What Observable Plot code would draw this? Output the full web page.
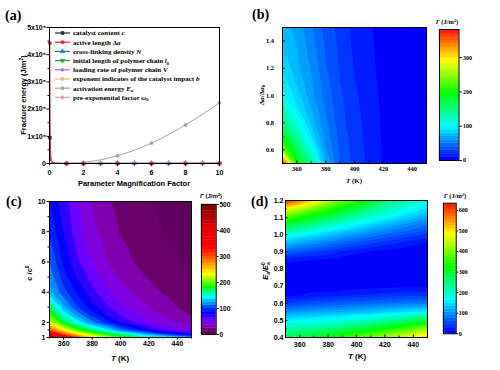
<!DOCTYPE html>
<html>
<head>
<meta charset="utf-8">
<script src="https://cdn.jsdelivr.net/npm/d3@7"></script>
<script src="https://cdn.jsdelivr.net/npm/@observablehq/plot@0.6"></script>
<style>
  html, body { margin: 0; padding: 0; background: #fff; }
  #fig { position: relative; width: 500px; height: 370px; overflow: hidden; background: #fff; }
  .panel { position: absolute; }
  .panel svg { display: block; }
  #overlay { position: absolute; left: 0; top: 0; pointer-events: none; }
</style>
</head>
<body>
<div id="fig"></div>
<script>
// ================= DATA =================
// ---- Panel (a): fracture energy vs parameter magnification factor ----
const catalystX   = [0.02, 0.05, 0.1, 0.2, 0.5, 1, 2, 4, 6, 8, 10];
const catalystY   = [95000, 21000, 6000, 1800, 520, 250, 130, 70, 48, 38, 30];
const activeLenX  = [0.02, 0.05, 0.1, 0.2, 0.5, 1, 2, 4, 6, 8, 10];
const activeLenY  = [442000, 70000, 18000, 4500, 900, 250, 70, 20, 10, 6, 4];
const crossLinkX  = [1, 2, 3, 4, 5, 6, 7, 8, 9, 10];
const crossLinkY  = [250, 480, 700, 930, 1130, 1340, 1560, 1750, 1950, 2150];
const chainLenX   = [1, 2, 3, 4, 5, 6, 7, 8, 9, 10];
const chainLenY   = [250, 130, 90, 66, 52, 44, 38, 33, 29, 26];
const loadRateX   = [1, 2, 3, 4, 5, 6, 7, 8, 9, 10];
const loadRateY   = [250, 320, 370, 410, 440, 470, 490, 510, 530, 550];
const exponentX   = [1, 2, 3, 4, 5, 6, 7, 8, 9, 10];
const exponentY   = [250, 160, 120, 100, 85, 75, 68, 62, 58, 54];
const actEnergyX  = [0, 1, 2, 4, 6, 8, 10];
const actEnergyY  = [0, 250, 4200, 28500, 75000, 142000, 223000];
const preExpX     = [1, 2, 3, 4, 5, 6, 7, 8, 9, 10];
const preExpY     = [250, 500, 760, 1010, 1260, 1500, 1760, 2010, 2260, 2500];
const aXTicks = [0, 2, 4, 6, 8, 10];
const aYTicks = [0, 100000, 200000, 300000, 400000, 500000];

// ---- Panel (b): Γ(T, Δa/Δa0) ----
const bT = [350, 360, 370, 380, 390, 400, 410, 420, 430, 440, 450];
const bA = [0.5, 0.6, 0.7, 0.8, 0.9, 1.0, 1.1, 1.2, 1.3, 1.4, 1.5];
const bGamma = [
  [380, 205, 145, 72, 40, 27, 18, 9, 6, 4, 3],
  [240, 165, 112, 61, 38, 26, 17, 9, 5.8, 4, 2.8],
  [190, 135, 90, 56, 36, 25, 16.5, 8.5, 5.6, 3.8, 2.7],
  [150, 112, 77, 52, 34, 24, 16, 8.3, 5.4, 3.7, 2.6],
  [125, 93, 70, 49, 33, 23, 15, 8, 5.2, 3.6, 2.5],
  [105, 85, 64, 46, 32, 22, 14, 7.8, 5, 3.5, 2.5],
  [95, 78, 62, 44, 30, 20.5, 13, 7.5, 4.9, 3.4, 2.4],
  [88, 73, 59, 41, 29, 19.5, 12.5, 7.3, 4.8, 3.3, 2.4],
  [82, 71, 56, 39.5, 28, 18.5, 12, 7, 4.7, 3.2, 2.3],
  [78, 69, 54, 38, 27, 17.5, 11.5, 6.8, 4.6, 3.2, 2.3],
  [75, 66, 51, 36, 26, 17, 11, 6.7, 4.5, 3.1, 2.2]
];
const bXTicks = [360, 380, 400, 420, 440];
const bYTicks = [0.6, 0.8, 1.0, 1.2, 1.4];
const bBarTicks = [0, 100, 200, 300];

// ---- Panel (c): Γ(T, c/c0) ----
const cT = [350, 360, 370, 380, 390, 400, 410, 420, 430, 440, 450];
const cC = [1, 1.25, 1.5, 2, 2.5, 3, 4, 5, 6, 8, 10];
const cGamma = [
  [480, 385, 310, 245, 215, 197, 180, 167, 155, 142, 130],
  [370, 295, 235, 205, 180, 160, 142, 118, 95, 80, 68],
  [300, 235, 192, 165, 143, 115, 95, 75, 61, 53, 47],
  [225, 175, 145, 117, 95, 73, 60, 50, 44, 38, 33],
  [195, 148, 120, 95, 75, 61, 50, 43, 37, 29, 24],
  [170, 128, 100, 80, 65, 52, 44, 37, 31, 25, 21],
  [130, 105, 84, 67, 53, 44, 36, 30, 24, 20, 17],
  [120, 93, 73, 57, 45, 35, 29, 24, 19, 16, 13],
  [112, 85, 64, 50, 38, 31, 24.5, 20, 16, 13, 11],
  [97, 74, 54, 41, 32, 24, 19, 15.5, 12.5, 10, 8.5],
  [88, 67, 51, 36, 27, 21, 16.5, 13, 10.5, 8.5, 7]
];
const cXTicks = [360, 380, 400, 420, 440];
const cYTicks = [1, 2, 4, 6, 8, 10];
const cBarTicks = [0, 100, 200, 300, 400, 500];

// ---- Panel (d): Γ(T, Ea/Ea0) ----
const dT = [350, 370, 390, 410, 430, 450];
const dE = [0.40, 0.45, 0.50, 0.55, 0.60, 0.65, 0.70, 0.75, 0.80, 0.85, 0.90, 0.95, 1.00, 1.05, 1.10, 1.15, 1.20];
const dGamma = [
  [275, 308, 351, 401, 457, 520],
  [220, 239, 268, 307, 356, 415],
  [160, 171, 184, 208, 244, 290],
  [100, 110, 118, 130, 144, 160],
  [45, 57, 65, 73, 80, 85],
  [8, 19, 25, 31, 37, 38],
  [2, 3.7, 4.9, 7.6, 11.7, 12],
  [0.5, 1, 1.2, 1.7, 2.6, 3],
  [3, 2.2, 1.2, 0.8, 0.8, 0.5],
  [20, 12.7, 6.9, 3.4, 2.3, 1],
  [70, 46.5, 26.2, 13.5, 8.6, 5],
  [125, 95, 68.4, 45.7, 27.4, 12],
  [185, 148.5, 115.2, 86.2, 61.4, 40],
  [280, 222, 172.4, 131.9, 100.3, 72],
  [370, 301.5, 242.2, 190.3, 145.9, 110],
  [480, 388.7, 309.7, 243.3, 189.5, 145],
  [625, 499.8, 391.8, 301.7, 229.8, 170]
];
const dXTicks = [360, 380, 400, 420, 440];
const dYTicks = [0.4, 0.5, 0.6, 0.7, 0.8, 0.9, 1.0, 1.1, 1.2];
const dBarTicks = [0, 100, 200, 300, 400, 500, 600];

// ================= STYLE =================
const SANS = "'Liberation Sans', Arial, sans-serif";
const SERIF = "'Liberation Serif', 'Times New Roman', serif";
const jet = d3.piecewise(d3.interpolateRgb, ["#0000ff", "#00ffff", "#00ff00", "#ffff00", "#ff0000"]);
const cStops = [0, 12.5, 25, 37.5, 50, 62.5, 75, 87.5, 100, 112.5, 125, 137.5, 150, 162.5, 175, 187.5, 200, 212.5, 225, 250, 275, 300, 325, 400, 450, 500];
const cStopColors = ["#600060", "#6a006a", "#8000b0", "#8000e0", "#6a00ff", "#3000ff", "#0000ff", "#0020ff", "#0050ff", "#0090ff", "#00c0ff", "#00ffff", "#00ffb0", "#00ff60", "#00ff00", "#40ff00", "#80ff00", "#c0ff00", "#ffff00", "#ffc000", "#ff8000", "#ff4000", "#ff0000", "#e80000", "#b00000", "#700000"];
const cRamp = d3.scaleLinear().domain(cStops).range(cStopColors).interpolate(d3.interpolateRgb).clamp(true);
const cInterp = t => cRamp(t * 500);

const seriesStyle = [
  {key: "catalyst", color: "#2b2b2b", symbol: "square", rotate: 0},
  {key: "crossLink", color: "#2a6fdb", symbol: "triangle", rotate: 0},
  {key: "chainLen", color: "#23a045", symbol: "triangle", rotate: 180},
  {key: "exponent", color: "#f6b47c", symbol: "square", rotate: 0},
  {key: "preExp", color: "#f2a0a0", symbol: "square", rotate: 0},
  {key: "actEnergy", color: "#a6a6a6", symbol: "circle", rotate: 0},
  {key: "loadRate", color: "#a273e6", symbol: "diamond2", rotate: 0},
  {key: "activeLen", color: "#e8262a", symbol: "circle", rotate: 0}
];
const seriesData = {
  catalyst: [catalystX, catalystY], activeLen: [activeLenX, activeLenY],
  crossLink: [crossLinkX, crossLinkY], chainLen: [chainLenX, chainLenY],
  loadRate: [loadRateX, loadRateY], exponent: [exponentX, exponentY],
  actEnergy: [actEnergyX, actEnergyY], preExp: [preExpX, preExpY]
};

// ================= HELPERS =================
const fig = document.getElementById("fig");
function place(node, left, top) {
  const d = document.createElement("div");
  d.className = "panel";
  d.style.left = left + "px";
  d.style.top = top + "px";
  d.appendChild(node);
  fig.appendChild(d);
}
function gridTable(xs, ys, rows) {
  const out = [];
  ys.forEach((y, i) => xs.forEach((x, j) => out.push({x, y, v: rows[i][j]})));
  return out;
}
const blank = () => "";
function styleFor(family, size) {
  return {fontFamily: family, fontSize: size + "px", fontWeight: "bold", background: "transparent", overflow: "visible", color: "black"};
}

// ================= PANEL (a) =================
const aLines = [], aDots = [];
for (const s of seriesStyle) {
  const [xs, ys] = seriesData[s.key];
  const tbl = xs.map((x, i) => ({x, y: ys[i]}));
  aLines.push(Plot.line(tbl, {x: "x", y: "y", stroke: s.color, strokeWidth: 1, curve: "monotone-x"}));
  let pts = tbl;
  if (s.key === "actEnergy") pts = tbl.filter(d => d.x >= 2);
  else if (s.key === "activeLen" || s.key === "catalyst") pts = tbl.filter((d, i) => i === 0 || d.x >= 1);
  aDots.push(Plot.dot(pts, {x: "x", y: "y", fill: s.color, stroke: s.color, strokeWidth: 0.5, symbol: s.symbol, rotate: s.rotate, r: 1.7}));
}
const supFmt = d => d === 0 ? "0" : `${d / 1e5}x10\u2075`;
const plotA = Plot.plot({
  width: 250, height: 190,
  marginLeft: 49, marginRight: 31, marginTop: 27, marginBottom: 27,
  style: styleFor(SANS, 7),
  x: {domain: [0, 10]},
  y: {domain: [0, 500000]},
  marks: [
    ...aLines, ...aDots,
    Plot.axisX(aXTicks, {tickSize: 2.5, tickPadding: 4.5, label: null}),
    Plot.axisX([1, 3, 5, 7, 9], {tickSize: 1.5, tickFormat: blank, label: null}),
    Plot.axisY(aYTicks, {tickSize: 2.5, tickPadding: 1, tickFormat: supFmt, label: null}),
    Plot.axisY([50000, 150000, 250000, 350000, 450000], {tickSize: 1.5, tickFormat: blank, label: null}),
    Plot.frame({stroke: "black", strokeWidth: 1})
  ]
});
place(plotA, 0, 0);

// ================= PANEL (b) =================
const bThresh = d3.range(0, 380, 10);
const plotB = Plot.plot({
  width: 180, height: 190,
  marginLeft: 32, marginRight: 4, marginTop: 27, marginBottom: 27,
  style: styleFor(SERIF, 6.5),
  x: {domain: [350, 450]},
  y: {domain: [0.5, 1.5]},
  color: {type: "linear", domain: [0, 382], interpolate: jet},
  marks: [
    Plot.contour(gridTable(bT, bA, bGamma), {x: "x", y: "y", value: "v", fill: "value", stroke: "none", interpolate: "barycentric", thresholds: bThresh, pixelSize: 1}),
    Plot.axisX(bXTicks, {tickSize: -2.5, tickPadding: 5.2, label: null}),
    Plot.axisX([350, 370, 390, 410, 430, 450], {tickSize: -1.5, tickFormat: blank, label: null}),
    Plot.axisY(bYTicks, {tickSize: -2.5, tickPadding: 11, tickFormat: d3.format(".1f"), label: null}),
    Plot.axisY([0.5, 0.7, 0.9, 1.1, 1.3, 1.5], {tickSize: -1.5, tickFormat: blank, label: null}),
    Plot.frame({stroke: "black", strokeWidth: 1})
  ]
});
place(plotB, 250, 0);

const barB = Plot.plot({
  width: 70, height: 190,
  marginLeft: 9, marginRight: 41.5, marginTop: 29, marginBottom: 30,
  style: styleFor(SERIF, 6),
  x: {domain: [0, 1], axis: null},
  y: {domain: [0, 382]},
  color: {type: "linear", domain: [0, 382], interpolate: jet},
  marks: [
    Plot.rect(bThresh, {x1: () => 0, x2: () => 1, y1: d => d, y2: d => Math.min(d + 10, 382), fill: d => d, stroke: d => d, strokeWidth: 0.4}),
    Plot.axisY(bBarTicks, {anchor: "right", tickSize: 2.3, tickPadding: 1.7, label: null}),
    Plot.frame({stroke: "black", strokeWidth: 1})
  ]
});
place(barB, 430, 0);

// ================= PANEL (c) =================
const cThresh = d3.range(0, 500, 12.5);
const plotC = Plot.plot({
  width: 200, height: 185,
  marginLeft: 49, marginRight: 9, marginTop: 16, marginBottom: 33,
  style: styleFor(SANS, 7),
  x: {domain: [350, 450]},
  y: {domain: [1, 10]},
  color: {type: "linear", domain: [0, 500], interpolate: cInterp},
  marks: [
    Plot.contour(gridTable(cT, cC, cGamma), {x: "x", y: "y", value: "v", fill: "value", stroke: "none", interpolate: "barycentric", thresholds: cThresh, pixelSize: 1}),
    Plot.axisX(cXTicks, {tickSize: 2.5, tickPadding: 1.5, label: null}),
    Plot.axisX([350, 370, 390, 410, 430, 450], {tickSize: 1.5, tickFormat: blank, label: null}),
    Plot.axisY(cYTicks, {tickSize: 2.5, tickPadding: 1.5, label: null}),
    Plot.axisY([1.5, 3, 5, 7, 9], {tickSize: 1.5, tickFormat: blank, label: null}),
    Plot.frame({stroke: "black", strokeWidth: 1})
  ]
});
place(plotC, 0, 185);

const barC = Plot.plot({
  width: 55, height: 185,
  marginLeft: 6, marginRight: 34.3, marginTop: 19, marginBottom: 36,
  style: styleFor(SANS, 6.5),
  x: {domain: [0, 1], axis: null},
  y: {domain: [0, 500]},
  color: {type: "linear", domain: [0, 500], interpolate: cInterp},
  marks: [
    Plot.rect(cThresh, {x1: () => 0, x2: () => 1, y1: d => d, y2: d => Math.min(d + 12.5, 500), fill: d => d, stroke: d => d, strokeWidth: 0.4}),
    Plot.axisY(cBarTicks, {anchor: "right", tickSize: 2, tickPadding: 1.3, label: null}),
    Plot.frame({stroke: "black", strokeWidth: 1})
  ]
});
place(barC, 195, 185);

// ================= PANEL (d) =================
const dThresh = d3.range(0, 630, 15);
const plotD = Plot.plot({
  width: 180, height: 185,
  marginLeft: 35, marginRight: 3, marginTop: 15, marginBottom: 33,
  style: styleFor(SANS, 7),
  x: {domain: [350, 450]},
  y: {domain: [0.4, 1.2]},
  color: {type: "linear", domain: [0, 635], interpolate: jet},
  marks: [
    Plot.contour(gridTable(dT, dE, dGamma), {x: "x", y: "y", value: "v", fill: "value", stroke: "none", interpolate: "barycentric", thresholds: dThresh, pixelSize: 1}),
    Plot.axisX(dXTicks, {tickSize: -2.5, tickPadding: 6.8, label: null}),
    Plot.axisX([350, 370, 390, 410, 430, 450], {tickSize: -1.5, tickFormat: blank, label: null}),
    Plot.axisY(dYTicks, {tickSize: -2.5, tickPadding: 4.5, tickFormat: d3.format(".1f"), label: null}),
    Plot.axisY([0.45, 0.55, 0.65, 0.75, 0.85, 0.95, 1.05, 1.15], {tickSize: -1.5, tickFormat: blank, label: null}),
    Plot.frame({stroke: "black", strokeWidth: 1})
  ]
});
place(plotD, 250, 185);

const barD = Plot.plot({
  width: 70, height: 185,
  marginLeft: 13, marginRight: 44.3, marginTop: 17.7, marginBottom: 36.7,
  style: styleFor(SERIF, 6),
  x: {domain: [0, 1], axis: null},
  y: {domain: [0, 635]},
  color: {type: "linear", domain: [0, 635], interpolate: jet},
  marks: [
    Plot.rect(dThresh, {x1: () => 0, x2: () => 1, y1: d => d, y2: d => Math.min(d + 15, 635), fill: d => d, stroke: d => d, strokeWidth: 0.4}),
    Plot.axisY(dBarTicks, {anchor: "right", tickSize: 1.5, tickPadding: 1, label: null}),
    Plot.frame({stroke: "black", strokeWidth: 1})
  ]
});
place(barD, 430, 185);

// ================= OVERLAY TEXT (labels, legend) =================
const legendItems = [
  {key: "catalyst", html: 'catalyst content <tspan font-style="italic">c</tspan>'},
  {key: "activeLen", html: 'active length \u0394<tspan font-style="italic">a</tspan>'},
  {key: "crossLink", html: 'cross-linking density <tspan font-style="italic">N</tspan>'},
  {key: "chainLen", html: 'initial length of polymer chain <tspan font-style="italic">l</tspan><tspan font-size="4.5" dy="1.5">0</tspan>'},
  {key: "loadRate", html: 'loading rate of polymer chain <tspan font-style="italic">V</tspan>'},
  {key: "exponent", html: 'exponent indicates of the catalyst impact <tspan font-style="italic">b</tspan>'},
  {key: "actEnergy", html: 'activation energy <tspan font-style="italic">E</tspan><tspan font-size="4.5" dy="1.5" font-style="italic">a</tspan>'},
  {key: "preExp", html: 'pre-exponential factor <tspan font-style="italic">\u03c9</tspan><tspan font-size="4.5" dy="1.5">0</tspan>'}
];
const symMap = {square: d3.symbolSquare, circle: d3.symbolCircle, triangle: d3.symbolTriangle, diamond2: d3.symbolDiamond2};
let legendSvg = "";
legendItems.forEach((it, i) => {
  const s = seriesStyle.find(q => q.key === it.key);
  const y = 33 + 9.2 * i;
  const path = d3.symbol(symMap[s.symbol], 9)();
  legendSvg += `<line x1="55" x2="70" y1="${y}" y2="${y}" stroke="${s.color}" stroke-width="1.2"/>`;
  legendSvg += `<path d="${path}" transform="translate(62.5,${y}) rotate(${s.rotate})" fill="${s.color}" stroke="${s.color}" stroke-width="0.5"/>`;
  legendSvg += `<text x="73" y="${y + 2.4}" font-family="${SERIF}" font-size="7" font-weight="bold">${it.html}</text>`;
});

const gammaTitle = (x, y, fam, size) =>
  `<text x="${x}" y="${y}" text-anchor="middle" font-family="${fam}" font-size="${size}" font-weight="bold"><tspan font-style="italic">\u0393</tspan> (J/m<tspan font-size="${size * 0.65}" dy="-2.5">2</tspan><tspan dy="2.5">)</tspan></text>`;

const overlay = `
<svg id="overlay" width="500" height="370" xmlns="http://www.w3.org/2000/svg">
  <g font-weight="bold" font-family="${SERIF}" font-size="14">
    <text x="5" y="20">(a)</text>
    <text x="252" y="19">(b)</text>
    <text x="6" y="205.5">(c)</text>
    <text x="251" y="206">(d)</text>
  </g>
  <text x="134" y="185.5" text-anchor="middle" font-family="${SANS}" font-size="7.5" font-weight="bold">Parameter Magnification Factor</text>
  <text transform="translate(25.5,95) rotate(-90)" text-anchor="middle" font-family="${SANS}" font-size="7.5" font-weight="bold">Fracture energy  (J/m<tspan font-size="5" dy="-3">2</tspan><tspan dy="3">)</tspan></text>
  ${legendSvg}
  <text x="354" y="182.5" text-anchor="middle" font-family="${SERIF}" font-size="7" font-weight="bold"><tspan font-style="italic">T</tspan> (K)</text>
  <text transform="translate(263.5,95) rotate(-90)" text-anchor="middle" font-family="${SERIF}" font-size="7" font-weight="bold">\u0394<tspan font-style="italic">a</tspan>/\u0394<tspan font-style="italic">a</tspan><tspan font-size="4.8" dy="1.8">0</tspan></text>
  ${gammaTitle(447, 24, SERIF, 6.5)}
  <text x="120" y="361" text-anchor="middle" font-family="${SANS}" font-size="8" font-weight="bold"><tspan font-style="italic">T</tspan> (K)</text>
  <text transform="translate(32,273) rotate(-90)" text-anchor="middle" font-family="${SANS}" font-size="7.5" font-weight="bold"><tspan font-style="italic">c</tspan> /<tspan font-style="italic">c</tspan><tspan font-size="5" dy="-3">0</tspan></text>
  ${gammaTitle(211, 198, SANS, 6)}
  <text x="357" y="358.5" text-anchor="middle" font-family="${SANS}" font-size="8" font-weight="bold"><tspan font-style="italic">T</tspan> (K)</text>
  <text transform="translate(268,271) rotate(-90)" text-anchor="middle" font-family="${SANS}" font-size="7.5" font-weight="bold"><tspan font-style="italic">E</tspan><tspan font-size="5" dy="1.8">a</tspan><tspan dy="-1.8">/</tspan><tspan font-style="italic">E</tspan><tspan font-size="5" dy="-3">0</tspan><tspan font-size="5" dx="-2.8" dy="4.8">a</tspan></text>
  ${gammaTitle(455, 198, SERIF, 6.5)}
</svg>`;
fig.insertAdjacentHTML("beforeend", overlay);
</script>
</body>
</html>
